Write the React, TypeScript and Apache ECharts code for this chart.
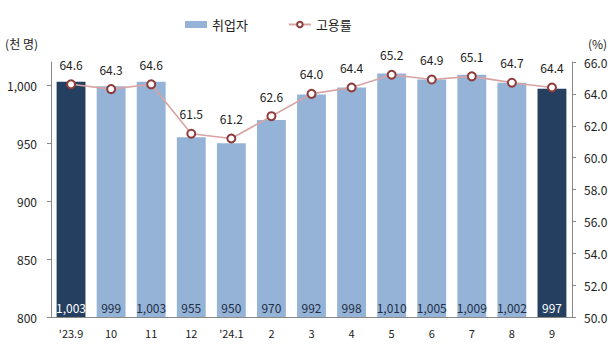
import React, { useEffect, useRef } from "react";
import * as echarts from "echarts";

const categories = ["'23.9", "10", "11", "12", "'24.1", "2", "3", "4", "5", "6", "7", "8", "9"];
const employed = [1003, 999, 1003, 955, 950, 970, 992, 998, 1010, 1005, 1009, 1002, 997];
const employmentRate = [64.6, 64.3, 64.6, 61.5, 61.2, 62.6, 64.0, 64.4, 65.2, 64.9, 65.1, 64.7, 64.4];
const highlighted = [0, 12];

const FONT = "'Noto Sans CJK KR', 'Noto Sans', sans-serif";
const LIGHT = "#95B3D7";
const DARK = "#243F60";

export default function App() {
  const ref = useRef<HTMLDivElement>(null);
  useEffect(() => {
    if (!ref.current) return;
    document.body.style.margin = "0";
    const chart = echarts.init(ref.current, undefined, { renderer: "svg" });
    const fmt = (v: number) => v.toLocaleString("en-US");
    chart.setOption({
      animation: false,
      textStyle: { fontFamily: FONT },
      legend: {
        top: 13,
        left: 180,
        itemGap: 40,
        textStyle: { fontFamily: FONT, fontSize: 13, color: "#222" },
        data: [
          { name: "취업자", icon: "rect", itemStyle: { color: LIGHT } },
          { name: "고용률" },
        ],
        itemWidth: 22,
        itemHeight: 7,
      },
      grid: { left: 51, right: 44, top: 62, bottom: 43, containLabel: false },
      xAxis: {
        type: "category",
        data: categories,
        axisLine: { lineStyle: { color: "#888" } },
        axisTick: { show: false },
        axisLabel: { color: "#222", fontSize: 11, margin: 10, fontFamily: FONT },
      },
      yAxis: [
        {
          type: "value",
          min: 800,
          max: 1020,
          interval: 50,
          name: "(천 명)",
          nameLocation: "end",
          nameGap: 13,
          nameTextStyle: { color: "#222", fontSize: 12, align: "right", padding: [0, 13, 0, 0] },
          axisLine: { show: true, lineStyle: { color: "#888" } },
          axisTick: { show: true, length: 4, lineStyle: { color: "#888" } },
          splitLine: { show: false },
          axisLabel: {
            color: "#222",
            fontSize: 12,
            margin: 14,
            showMaxLabel: false,
            formatter: (v: number) => fmt(v),
          },
        },
        {
          type: "value",
          min: 50,
          max: 66,
          interval: 2,
          name: "(%)",
          nameLocation: "end",
          nameGap: 13,
          nameTextStyle: { color: "#222", fontSize: 12, align: "left", padding: [0, 0, 0, 16] },
          position: "right",
          axisLine: { show: true, lineStyle: { color: "#888" } },
          axisTick: { show: true, length: 4, lineStyle: { color: "#888" } },
          splitLine: { show: false },
          axisLabel: { color: "#222", fontSize: 12, margin: 12, formatter: (v: number) => v.toFixed(1) },
        },
      ],
      series: [
        {
          name: "취업자",
          type: "bar",
          yAxisIndex: 0,
          barCategoryGap: "28%",
          data: employed.map((v, i) => {
            const hi = highlighted.includes(i);
            return {
              value: v,
              itemStyle: { color: hi ? DARK : LIGHT },
              label: { color: hi ? "#fff" : "#1F2F45" },
            };
          }),
          label: {
            show: true,
            position: "insideBottom",
            distance: 4,
            fontSize: 12,
            fontFamily: FONT,
            formatter: (p: any) => fmt(p.value),
          },
        },
        {
          name: "고용률",
          type: "line",
          yAxisIndex: 1,
          data: employmentRate,
          symbol: "circle",
          symbolSize: 8,
          lineStyle: { color: "#D9A3A3", width: 1.6 },
          itemStyle: { color: "#fff", borderColor: "#8E3B3B", borderWidth: 2 },
          label: {
            show: true,
            position: "top",
            distance: 9,
            fontSize: 12,
            color: "#222",
            fontFamily: FONT,
            formatter: (p: any) => p.value.toFixed(1),
          },
          z: 5,
        },
      ],
    });
    return () => chart.dispose();
  }, []);
  return <div ref={ref} style={{ width: 616, height: 360 }} />;
}
